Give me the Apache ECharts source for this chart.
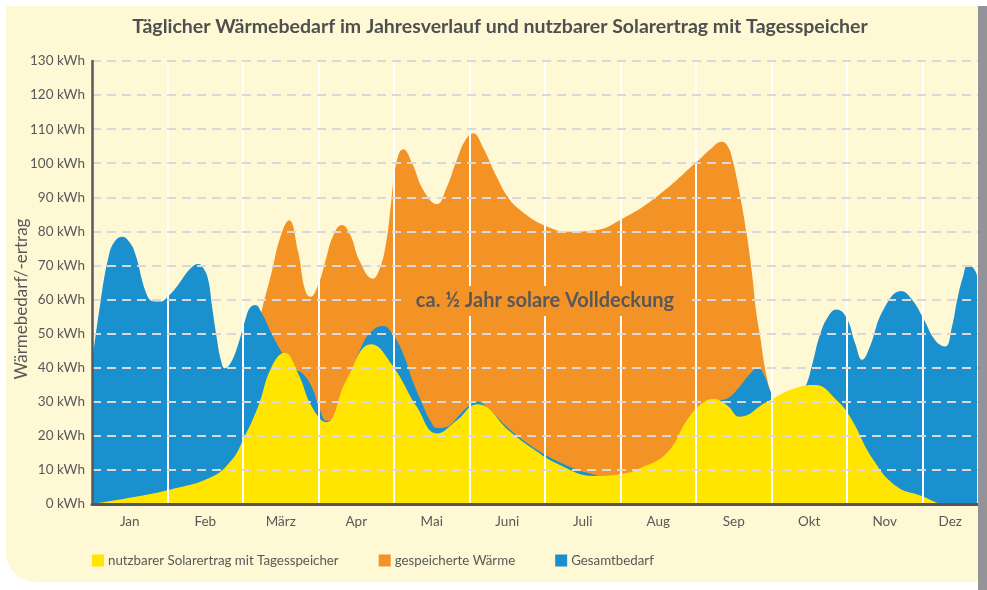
<!DOCTYPE html>
<html>
<head>
<meta charset="utf-8">
<script src="https://cdn.jsdelivr.net/npm/echarts@6/dist/echarts.min.js"></script>
<style>
html,body{margin:0;padding:0;background:#ffffff;}
#chart{width:987px;height:590px;}
</style>
</head>
<body>
<div id="chart"></div>
<script>
// ---- data ----
const months = ['Jan','Feb','März','Apr','Mai','Juni','Juli','Aug','Sep','Okt','Nov','Dez'];
const yMin = 0, yMax = 130, yStep = 10;

// x positions in months (0 = start of Jan), values in kWh
const solarX = [0.00,0.50,1.01,1.59,1.85,2.00,2.20,2.38,2.55,2.73,2.91,3.10,3.37,3.70,3.99,4.30,4.57,4.83,5.10,5.54,5.80,6.19,6.66,7.06,7.26,7.61,7.88,8.05,8.23,8.41,8.58,8.94,9.38,9.58,9.86,10.04,10.35,10.66,10.97,11.32,11.74];
const solarY = [0,1.8,4.1,8,12.9,18.8,28.6,40.3,44.4,38.3,28.6,24,36.4,46.9,40.3,28.6,20.7,24.5,29.3,21.2,16.8,11.5,8.2,9,10.5,14.9,24.6,29,30.8,29,25.6,30,34.4,34.9,30.5,25.6,12.9,5.1,2.5,0,0];

const demandX = [0.00,0.11,0.22,0.30,0.40,0.49,0.57,0.72,0.81,0.90,1.01,1.14,1.30,1.41,1.48,1.54,1.59,1.65,1.71,1.76,1.84,1.94,2.03,2.09,2.16,2.25,2.40,2.58,2.69,2.78,2.91,3.02,3.11,3.19,3.28,3.44,3.59,3.72,3.86,3.99,4.12,4.25,4.39,4.48,4.57,4.69,4.83,4.95,5.10,5.27,5.54,5.80,6.00,6.19,6.40,6.59,6.79,7.06,7.26,7.61,7.88,8.05,8.23,8.34,8.45,8.58,8.72,8.82,8.91,8.98,9.06,9.24,9.38,9.46,9.54,9.64,9.75,9.86,9.99,10.11,10.20,10.30,10.48,10.72,10.86,11.01,11.17,11.30,11.39,11.46,11.54,11.60,11.68,11.74,11.84];
const demandY = [41.5,58.9,72.6,77,78.4,77,73.6,61.8,59.5,59.4,61,64.3,69,70.4,69,65.7,58,49.1,42,39.8,41.5,47.2,54,57.5,58.4,56,49.1,42.3,39.5,38.5,34.4,27.6,24.4,25,28.6,38,47.2,51,52.2,49.5,44.2,36,28.6,24.5,22.3,22.6,25.2,28,30,27.5,21.7,17.3,14.5,12.3,10.3,9.0,8.0,8.5,10,14.4,24,28.5,30.2,30.5,31.5,34.5,38.3,39.9,37.5,33.5,29.5,29.5,32.5,35,41,49.5,55,57.1,54.8,47,42.3,46,56.9,62.5,60,54.5,48,46.2,52,60,67,70.1,69,65.7,58];

const storedX = [2.20,2.26,2.38,2.49,2.61,2.73,2.82,2.89,2.99,3.10,3.19,3.31,3.42,3.55,3.72,3.81,3.89,3.95,4.00,4.06,4.12,4.24,4.39,4.57,4.69,4.83,4.95,5.05,5.17,5.36,5.51,5.67,5.98,6.33,6.66,6.99,7.48,8.01,8.21,8.34,8.42,8.49,8.58,8.67,8.74,8.80,8.85,8.91,8.98];
const storedY = [52,57.9,68,78,83.3,74,63,60.8,64,72,78.5,81.9,79,71,66.1,69,76,86,96,102.5,104.1,100,92.1,88,92.5,100.9,107,108.8,105,96,90,86.3,81.9,79.9,80.3,83.3,90.2,100.4,104.5,106.3,105,100.4,91,79.4,68,56,49.1,40.3,33];

const names = ['nutzbarer Solarertrag mit Tagesspeicher','gespeicherte Wärme','Gesamtbedarf'];
const colors = {solar:'#ffe500', stored:'#f49325', demand:'#1b90cf'};

function pairs(xs, ys){ return xs.map((x,i)=>[x, ys[i]]); }

const xMax = 11.735;
const FONT = 'Lato';
const TXT = '#58585a';

function areaSeries(name, color, data){
  return {
    name: name, type: 'line', data: data, smooth: 0.45,
    showSymbol: false, symbol: 'none', xAxisIndex: 0,
    lineStyle: {width: 0, color: color},
    itemStyle: {color: color},
    areaStyle: {color: color, opacity: 1},
    emphasis: {disabled: true}
  };
}

const chart = echarts.init(document.getElementById('chart'), null, {renderer:'canvas'});
chart.setOption({
  animation: false,
  backgroundColor: '#ffffff',
  title: {
    text: 'Täglicher Wärmebedarf im Jahresverlauf und nutzbarer Solarertrag mit Tagesspeicher',
    left: 500, top: 17, textAlign: 'center', padding: 0,
    textStyle: {fontFamily: FONT, fontSize: 19.5, fontWeight: 'bold', color: '#4f4f51'}
  },
  legend: {
    left: 92, top: 554, padding: 0, itemWidth: 12, itemHeight: 12, itemGap: 40, icon: 'rect',
    data: names,
    textStyle: {fontFamily: FONT, fontSize: 13.3, color: TXT, padding: [0,0,0,-1]}
  },
  grid: {left: 92, right: 9, top: 61, bottom: 86, containLabel: false},
  xAxis: [
    {
      type: 'value', min: 0, max: xMax, interval: 0.5, z: 6,
      axisLine: {show: true, onZero: false, lineStyle: {color: '#58585a', width: 3}},
      axisTick: {show: false},
      splitLine: {show: false},
      axisLabel: {
        color: TXT, fontFamily: FONT, fontSize: 13.5, margin: 11,
        showMaxLabel: false,
        formatter: function(v){
          const f = v - Math.floor(v);
          if (Math.abs(f - 0.5) < 1e-6) {
            const i = Math.floor(v);
            if (i === 11) return '{d|' + months[i] + '}';
            return months[i];
          }
          return '';
        },
        rich: {d: {color: TXT, fontFamily: FONT, fontSize: 13.5, padding: [0,20,0,0]}}
      }
    },
    {
      type: 'value', min: 0, max: xMax, interval: 1, z: 4, position: 'bottom',
      axisLine: {show: false}, axisTick: {show: false}, axisLabel: {show: false},
      splitLine: {show: true, lineStyle: {color: '#ffffff', width: 2}}
    }
  ],
  yAxis: {
    type: 'value', min: yMin, max: yMax, interval: yStep, z: 5,
    axisLine: {show: true, lineStyle: {color: '#58585a', width: 2.5}},
    axisTick: {show: false},
    axisLabel: {formatter: '{value} kWh', color: TXT, fontFamily: FONT, fontSize: 13.5, margin: 7},
    splitLine: {show: true, lineStyle: {color: '#d9d9dc', width: 2, type: [9,6]}}
  },
  series: [
    areaSeries(names[1], colors.stored, pairs(storedX, storedY)),
    areaSeries(names[2], colors.demand, pairs(demandX, demandY)),
    areaSeries(names[0], colors.solar, pairs(solarX, solarY))
  ],
  graphic: [
    {type: 'rect', z: -10, silent: true, shape: {x: 6, y: 6, width: 972, height: 576, r: [0,0,0,30]}, style: {fill: '#fef8d4'}},
    {type: 'rect', z: 100, silent: true, shape: {x: 978, y: 6, width: 9, height: 584}, style: {fill: '#939398'}},
    {type: 'text', z: 100, silent: true, x: 22, y: 299, rotation: Math.PI/2,
     style: {text: 'Wärmebedarf/-ertrag', fill: TXT, font: '17px ' + FONT, textAlign: 'center', textVerticalAlign: 'middle', align: 'center', verticalAlign: 'middle'}},
    {type: 'text', z: 100, silent: true, x: 545, y: 301,
     style: {text: 'ca. ½ Jahr solare Volldeckung', fill: '#58585a', font: 'bold 20px ' + FONT,
       textAlign: 'center', textVerticalAlign: 'middle', align: 'center', verticalAlign: 'middle',
       backgroundColor: colors.stored, padding: [5,13,5,13]}}
  ]
});
</script>
</body>
</html>
